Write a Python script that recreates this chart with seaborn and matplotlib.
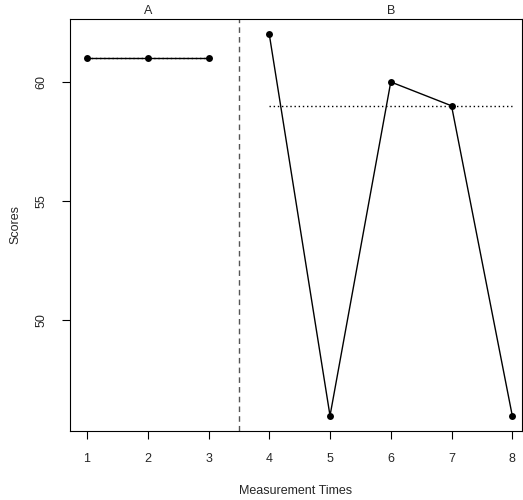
import pandas as pd
import matplotlib
matplotlib.use("Agg")
import matplotlib.pyplot as plt
import seaborn as sns

times = [1, 2, 3, 4, 5, 6, 7, 8]
scores = [61, 61, 61, 62, 46, 60, 59, 46]
phases = ["A", "A", "A", "B", "B", "B", "B", "B"]

df = pd.DataFrame({"time": times, "score": scores, "phase": phases})

sns.set_style("white")
plt.rcParams["font.family"] = ["Liberation Sans", "DejaVu Sans"]

fig = plt.figure(figsize=(5.23, 5.0), dpi=100)
ax = fig.add_axes([70 / 523, 69 / 500, 452 / 523, 412 / 500])

for ph, sub in df.groupby("phase"):
    sns.lineplot(data=sub, x="time", y="score", color="black", linewidth=1,
                 marker="o", markersize=5, markeredgewidth=0, ax=ax)
    med = sub["score"].median()
    ax.plot([sub["time"].min(), sub["time"].max()], [med, med],
            color="black", linestyle=(0, (1, 2)), linewidth=1)
    ax.text(sub["time"].mean(), 1.005, ph, transform=ax.get_xaxis_transform(),
            ha="center", va="bottom", fontsize=9)

ax.axvline(3.5, color="#555555", linestyle=(0, (4, 3)), linewidth=1)

ax.set_xlim(0.72, 8.16)
ax.set_ylim(45.36, 62.64)
ax.set_xticks(times)
ax.set_yticks([50, 55, 60])
ax.set_yticklabels(["50", "55", "60"], rotation=90, va="center")
ax.tick_params(axis="both", direction="out", length=6, width=0.8, labelsize=9,
               pad=10, left=True, bottom=True, color="black")
ax.set_xlabel("Measurement Times", fontsize=9, labelpad=14)
ax.set_ylabel("Scores", fontsize=9, labelpad=10)
for s in ax.spines.values():
    s.set_color("black")
    s.set_linewidth(0.8)

fig.savefig("out.png", dpi=100)
